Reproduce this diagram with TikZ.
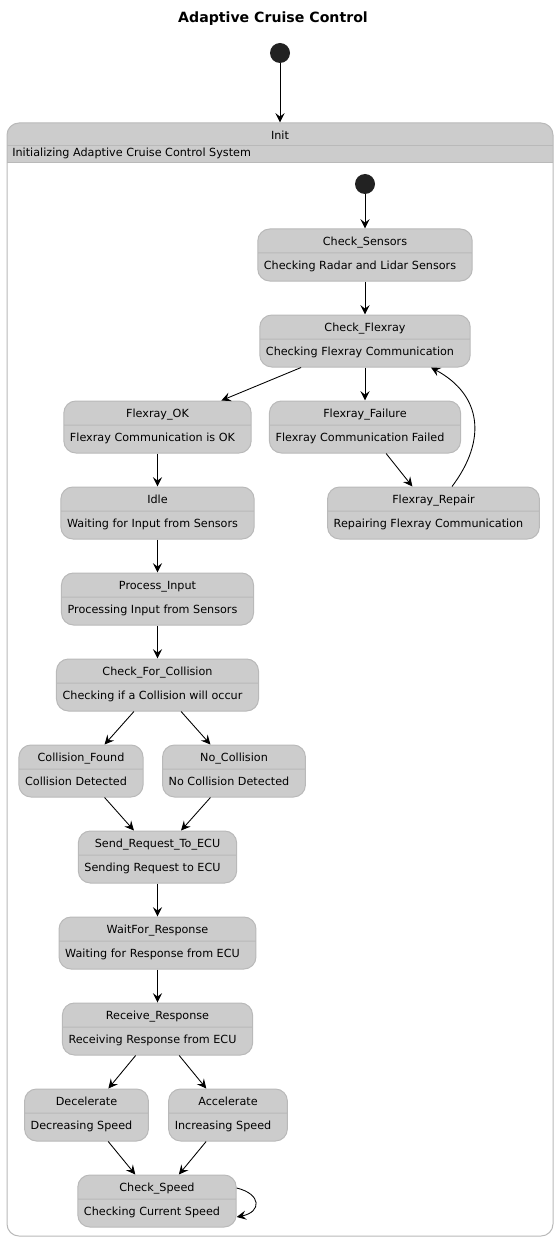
\documentclass[tikz,border=0pt]{standalone}
\usepackage{fontspec}
\setmainfont{DejaVu Sans}
\usetikzlibrary{arrows.meta,shapes.multipart}
\definecolor{stfill}{RGB}{204,204,204}
\definecolor{stline}{RGB}{185,185,185}
\definecolor{dot}{RGB}{34,34,34}
\newcommand\sttext[2]{\rule[-5.25pt]{0pt}{17.25pt}#1\nodepart{second}\rule[-8.25pt]{0pt}{20.25pt}#2\rule{7.5pt}{0pt}}
\tikzset{
  >={Stealth[length=7pt,width=6.8pt,inset=2.6pt]},
  flow/.style={->,line width=0.65pt,draw=black},
  state/.style={rectangle split,rectangle split parts=2,
    rectangle split part align={center,left},draw=stline,fill=stfill,
    rounded corners=9pt,inner xsep=4.6pt,inner ysep=0pt,line width=0.75pt,
    font=\fontsize{8.4}{10}\selectfont},
  start/.style={circle,fill=dot,minimum size=15pt,inner sep=0pt},
  cluster/.style={draw=stline,rounded corners=9pt,line width=0.75pt,
    minimum width=409.5pt,minimum height=834.75pt},
  label/.style={font=\fontsize{8.4}{10}\selectfont,inner sep=0pt},
}
\begin{document}
\begin{tikzpicture}[x=0.75pt,y=-0.75pt]
  \useasboundingbox (0,0) rectangle (559,1241);
  \node[font=\bfseries\fontsize{10.6}{12}\selectfont] (title) at (273,19) {Adaptive Cruise Control};
  \node[start] (s0) at (280,53) {};

  % composite state
  \begin{scope}
    \clip (7,123) rectangle (553,163);
    \fill[stfill,rounded corners=9pt] (7,123) rectangle (553,200);
  \end{scope}
  \draw[stline,line width=0.75pt] (7,146) -- (553,146) (7,163) -- (553,163);
  \node[cluster] (init) at (280,679.5) {};
  \node[label] (initname) at (280,135) {Init};
  \node[label,anchor=west] (initdesc) at (12,153) {Initializing Adaptive Cruise Control System};
  \draw[flow] (s0) -- (init);

  \node[start] (s1) at (365,184) {};
  \node[state] (cs) at (365,255) {\sttext{Check\_Sensors}{Checking Radar and Lidar Sensors}};
  \node[state] (cf) at (365,341) {\sttext{Check\_Flexray}{Checking Flexray Communication}};
  \node[state] (fok) at (157.5,427) {\sttext{Flexray\_OK}{Flexray Communication is OK}};
  \node[state] (ffail) at (365,427) {\sttext{Flexray\_Failure}{Flexray Communication Failed}};
  \node[state] (frep) at (433.5,513) {\sttext{Flexray\_Repair}{Repairing Flexray Communication}};
  \node[state] (idle) at (157.5,513) {\sttext{Idle}{Waiting for Input from Sensors}};
  \node[state] (proc) at (157.5,599) {\sttext{Process\_Input}{Processing Input from Sensors}};
  \node[state] (cfc) at (157.5,685) {\sttext{Check\_For\_Collision}{Checking if a Collision will occur}};
  \node[state] (found) at (81,771) {\sttext{Collision\_Found}{Collision Detected}};
  \node[state] (nocol) at (234,771) {\sttext{No\_Collision}{No Collision Detected}};
  \node[state] (req) at (157.5,857) {\sttext{Send\_Request\_To\_ECU}{Sending Request to ECU}};
  \node[state] (waitr) at (157.5,943) {\sttext{WaitFor\_Response}{Waiting for Response from ECU}};
  \node[state] (recv) at (157.5,1029) {\sttext{Receive\_Response}{Receiving Response from ECU}};
  \node[state] (dec) at (86.5,1115) {\sttext{Decelerate}{Decreasing Speed}};
  \node[state] (acc) at (228,1115) {\sttext{Accelerate}{Increasing Speed}};
  \node[state] (spd) at (157,1201) {\sttext{Check\_Speed}{Checking Current Speed}};

  \draw[flow] (s1) -- (cs);
  \draw[flow] (cs) -- (cf);
  \draw[flow] (cf) -- (fok);
  \draw[flow] (cf) -- (ffail);
  \draw[flow] (ffail) -- (frep);
  \draw[flow] ([xshift=13.9pt]frep.north) .. controls (487,440) and (482,395) .. ([xshift=49.5pt]cf.south);
  \draw[flow] (fok) -- (idle);
  \draw[flow] (idle) -- (proc);
  \draw[flow] (proc) -- (cfc);
  \draw[flow] (cfc) -- (found);
  \draw[flow] (cfc) -- (nocol);
  \draw[flow] (found) -- (req);
  \draw[flow] (nocol) -- (req);
  \draw[flow] (req) -- (waitr);
  \draw[flow] (waitr) -- (recv);
  \draw[flow] (recv) -- (dec);
  \draw[flow] (recv) -- (acc);
  \draw[flow] (dec) -- (spd);
  \draw[flow] (acc) -- (spd);
  \draw[flow] ([yshift=9.75pt]spd.east) .. controls +(25,6) and +(25,-5) .. ([yshift=-12pt]spd.east);
\end{tikzpicture}
\end{document}
